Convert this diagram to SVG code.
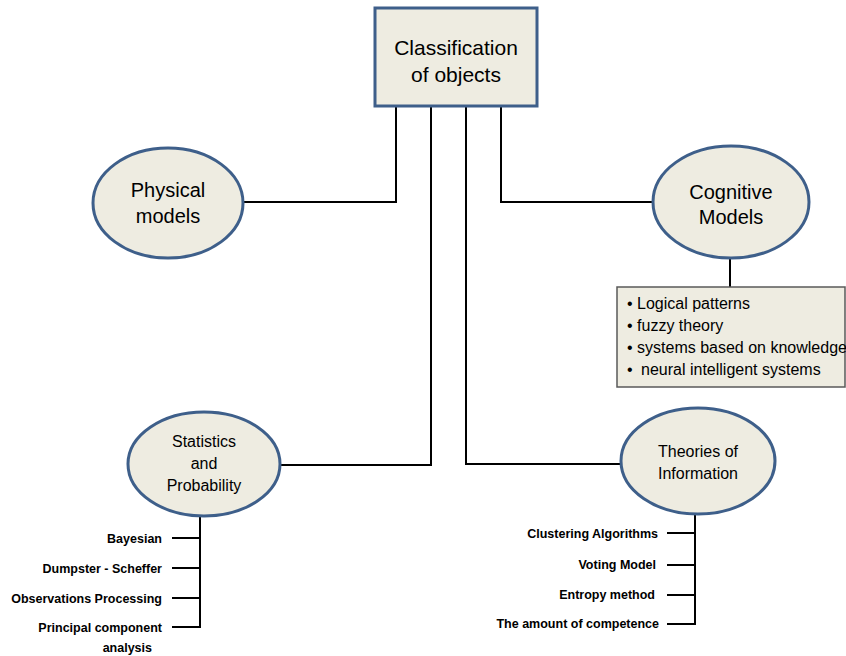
<svg xmlns="http://www.w3.org/2000/svg" width="846" height="656" viewBox="0 0 846 656">
<style>
.node{fill:#eeece1;stroke:#3e5f8a;stroke-width:3}
.box{fill:#eeece1;stroke:#595959;stroke-width:1.5}
.ln{fill:none;stroke:#000;stroke-width:2}
text{font-family:"Liberation Sans",Arial,sans-serif;fill:#000}
.t20{font-size:20px;text-anchor:middle}
.t16{font-size:16px;text-anchor:middle}
.li{font-size:16px}
.it{font-size:12.5px;font-weight:bold;text-anchor:end}
</style>
<rect width="846" height="656" fill="#fff"/>
<g id="connectors">
<polyline class="ln" points="396,106 396,202 243,202"/>
<polyline class="ln" points="431,106 431,465 280,465"/>
<polyline class="ln" points="466,106 466,464 622,464"/>
<polyline class="ln" points="501,106 501,202 653,202"/>
<line class="ln" x1="730" y1="258" x2="730" y2="287"/>
<polyline class="ln" points="200,516 200,627 172,627"/>
<line class="ln" x1="172" y1="538" x2="200" y2="538"/>
<line class="ln" x1="172" y1="568" x2="200" y2="568"/>
<line class="ln" x1="172" y1="598" x2="200" y2="598"/>
<polyline class="ln" points="695,514 695,624 667,624"/>
<line class="ln" x1="667" y1="533" x2="695" y2="533"/>
<line class="ln" x1="667" y1="565" x2="695" y2="565"/>
<line class="ln" x1="667" y1="595" x2="695" y2="595"/>
</g>
<g id="classification">
<rect class="node" x="375" y="8" width="162" height="98"/>
<text class="t20" x="456" y="55" style="font-size:21px">Classification</text>
<text class="t20" x="456" y="82" style="font-size:21px">of objects</text>
</g>
<g id="physical">
<ellipse class="node" cx="168" cy="203" rx="75" ry="55"/>
<text class="t20" x="168" y="197">Physical</text>
<text class="t20" x="168" y="223">models</text>
</g>
<g id="cognitive">
<ellipse class="node" cx="731" cy="202" rx="78" ry="56"/>
<text class="t20" x="731" y="199">Cognitive</text>
<text class="t20" x="731" y="224">Models</text>
</g>
<g id="cognitive-list">
<rect class="box" x="617" y="287" width="228" height="100"/>
<text class="li" x="627" y="309">• Logical patterns</text>
<text class="li" x="627" y="331">• fuzzy theory</text>
<text class="li" x="627" y="353">• systems based on knowledge</text>
<text class="li" x="627" y="375">•<tspan x="641">neural intelligent systems</tspan></text>
</g>
<g id="statistics">
<ellipse class="node" cx="204" cy="464" rx="76" ry="52"/>
<text class="t16" x="204" y="447">Statistics</text>
<text class="t16" x="204" y="469">and</text>
<text class="t16" x="204" y="491">Probability</text>
</g>
<g id="statistics-list">
<text class="it" x="162" y="543">Bayesian</text>
<text class="it" x="162" y="573">Dumpster - Scheffer</text>
<text class="it" x="162" y="603">Observations Processing</text>
<text class="it" x="162" y="632">Principal component</text>
<text class="it" x="152" y="652">analysis</text>
</g>
<g id="theories">
<ellipse class="node" cx="698" cy="461" rx="77" ry="53"/>
<text class="t16" x="698" y="457">Theories of</text>
<text class="t16" x="698" y="479">Information</text>
</g>
<g id="theories-list">
<text class="it" x="658" y="538">Clustering Algorithms</text>
<text class="it" x="656" y="569">Voting Model</text>
<text class="it" x="655" y="599">Entropy method</text>
<text class="it" x="659" y="628">The amount of competence</text>
</g>
</svg>
